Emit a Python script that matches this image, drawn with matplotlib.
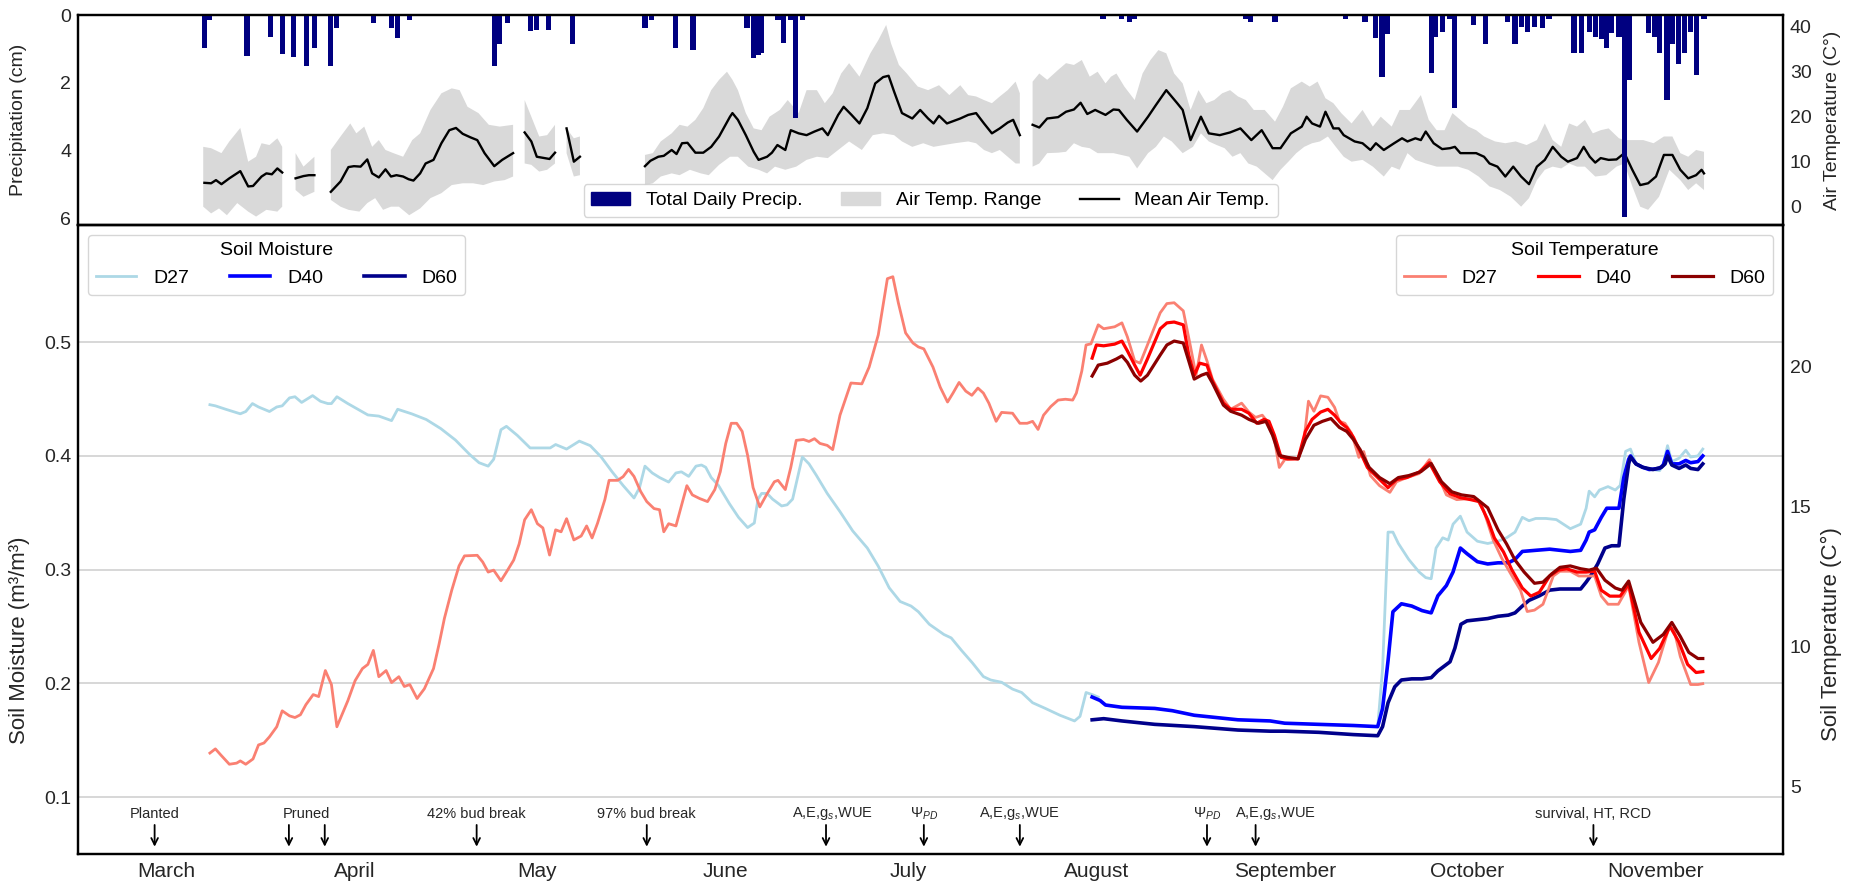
import numpy as np
import matplotlib
matplotlib.use("Agg")
import matplotlib.pyplot as plt
from matplotlib.patches import Patch
from matplotlib.lines import Line2D

nan = np.nan
plt.rcParams['font.family'] = ['Liberation Sans', 'DejaVu Sans']
plt.rcParams['mathtext.fontset'] = 'custom'
plt.rcParams['mathtext.rm'] = 'Liberation Sans'
plt.rcParams['mathtext.it'] = 'Liberation Sans:italic'

# x axis: days since 1 March
month_names = ["March", "April", "May", "June", "July", "August", "September", "October", "November"]
month_days = [0, 31, 61, 92, 122, 153, 184, 214, 245]

# daily precipitation (day, cm)
precip = np.array([
    [6.2, 0.98], [7.0, 0.15], [13.2, 1.2], [17.1, 0.64], [19.0, 1.15], [20.9, 1.23], [23.0, 1.5],
    [24.3, 0.98], [27.0, 1.5], [28.0, 0.39], [34.0, 0.23], [37.0, 0.39], [38.0, 0.69], [39.9, 0.15],
    [53.9, 1.5], [54.8, 0.84], [56.1, 0.23], [59.8, 0.46], [60.9, 0.44], [62.8, 0.44], [66.8, 0.86],
    [78.7, 0.39], [79.8, 0.15], [83.7, 0.98], [86.6, 1.03], [95.5, 0.39], [96.6, 1.28], [97.3, 1.18],
    [97.9, 1.13], [100.6, 0.15], [101.5, 0.82], [102.7, 0.15], [103.5, 3.05], [104.6, 0.15],
    [154.1, 0.12], [157.1, 0.12], [158.4, 0.2], [159.3, 0.12], [177.6, 0.12], [178.3, 0.2], [182.4, 0.2],
    [194.0, 0.12], [197.2, 0.2], [198.9, 0.69], [200.0, 1.82], [200.9, 0.56], [208.1, 1.72], [208.8, 0.64],
    [209.9, 0.49], [211.2, 0.12], [212.0, 2.75], [215.1, 0.3], [217.0, 0.84], [220.7, 0.2], [221.9, 0.84],
    [222.9, 0.34], [224.0, 0.49], [225.1, 0.34], [226.4, 0.39], [227.5, 0.12], [231.6, 1.11], [232.9, 1.13],
    [234.2, 0.49], [235.1, 0.64], [236.2, 0.72], [236.9, 0.98], [237.7, 0.54], [239.0, 0.64], [239.9, 5.95],
    [240.8, 1.92], [243.8, 0.54], [244.9, 0.64], [245.7, 1.13], [246.9, 2.51], [247.8, 0.84], [248.8, 1.43],
    [249.8, 1.13], [250.8, 0.49], [251.8, 1.77], [253.0, 0.12],
])

# mean air temperature (day, C), nan rows = missing data
air_mean = np.array([
    [6.2, 5.3], [7.3, 5.2], [8.1, 5.9], [9.0, 5.0], [10.3, 6.3], [12.1, 7.9], [13.4, 4.5], [14.2, 4.6],
    [15.6, 6.7], [16.4, 7.4], [17.3, 7.2], [18.2, 8.5], [19.0, 7.6], [nan, nan],
    [21.2, 6.3], [22.5, 6.8], [23.4, 7.0], [24.3, 7.0], [nan, nan],
    [27.0, 3.3], [28.6, 5.6], [29.9, 8.8], [30.8, 9.0], [31.9, 8.9], [33.0, 10.5], [33.8, 7.4], [34.9, 6.5],
    [36.0, 8.3], [36.9, 6.7], [37.8, 7.0], [38.9, 6.7], [39.8, 6.1], [40.6, 5.8], [41.7, 7.4], [42.6, 9.6],
    [43.9, 10.4], [45.2, 14.1], [46.5, 17.0], [47.6, 17.5], [48.7, 16.2], [50.0, 15.4], [51.1, 14.8],
    [52.3, 11.9], [53.9, 9.0], [55.2, 10.4], [57.0, 11.9], [nan, nan],
    [58.9, 16.5], [60.0, 14.5], [60.9, 11.1], [62.2, 10.8], [63.0, 10.6], [63.9, 12.0], [nan, nan],
    [65.8, 17.4], [67.0, 10.0], [68.0, 11.1], [nan, nan],
    [78.7, 9.0], [79.6, 10.2], [80.9, 11.1], [81.8, 11.3], [83.1, 12.6], [83.9, 11.7], [84.8, 14.1],
    [85.7, 14.2], [87.0, 12.0], [88.3, 12.0], [89.6, 13.3], [90.9, 15.6], [92.7, 20.0], [93.1, 20.8],
    [94.0, 19.3], [95.3, 15.9], [96.6, 12.2], [97.4, 10.4], [98.8, 11.1], [99.6, 12.0], [100.5, 13.7],
    [101.8, 12.6], [102.7, 17.0], [104.0, 16.3], [105.3, 15.9], [106.6, 16.7], [107.9, 17.4], [108.8, 15.9],
    [110.5, 20.4], [111.4, 22.2], [112.7, 20.4], [114.0, 18.5], [115.3, 21.9], [116.6, 27.4], [117.9, 28.8],
    [118.8, 29.1], [119.7, 25.6], [121.0, 20.8], [122.7, 19.6], [124.0, 21.5], [125.3, 19.6], [126.2, 18.5],
    [127.1, 20.2], [128.4, 18.5], [130.6, 19.6], [131.9, 20.4], [133.2, 20.8], [134.5, 18.5], [135.8, 16.3],
    [137.1, 17.4], [138.4, 18.7], [139.3, 19.3], [140.4, 15.9], [nan, nan],
    [142.5, 18.2], [143.6, 17.6], [144.9, 19.6], [146.7, 19.9], [148.0, 21.1], [149.3, 21.6], [150.4, 23.1],
    [151.5, 20.6], [152.8, 21.5], [154.5, 20.4], [155.8, 21.6], [156.7, 21.5], [158.0, 19.3], [159.7, 16.7],
    [161.5, 20.0], [162.8, 22.6], [164.5, 25.9], [166.3, 23.0], [167.2, 21.5], [168.5, 14.8], [170.2, 20.0],
    [171.5, 16.3], [173.3, 15.9], [175.0, 16.5], [176.7, 17.4], [178.5, 14.8], [180.2, 17.0], [182.0, 13.0],
    [183.3, 13.0], [185.0, 16.3], [186.8, 17.8], [187.6, 20.0], [188.5, 18.5], [189.8, 17.8], [190.7, 21.1],
    [192.0, 17.4], [192.9, 17.4], [193.7, 15.9], [195.5, 14.5], [196.8, 14.1], [198.1, 12.6], [199.0, 14.1],
    [200.3, 12.6], [202.0, 14.1], [203.3, 15.2], [204.2, 14.5], [205.5, 15.2], [206.4, 14.8], [207.2, 16.7],
    [208.5, 14.1], [209.9, 12.8], [211.2, 13.0], [212.0, 13.3], [212.9, 11.9], [214.2, 11.9], [215.5, 11.9],
    [216.8, 11.1], [217.7, 9.6], [219.0, 8.9], [220.3, 6.7], [221.6, 8.9], [222.9, 6.7], [224.2, 5.0],
    [225.5, 8.9], [226.8, 10.4], [228.1, 13.3], [229.5, 11.1], [230.6, 10.0], [232.1, 10.8], [233.2, 13.3],
    [234.2, 11.1], [235.1, 9.8], [236.0, 10.8], [237.3, 10.4], [238.6, 10.5], [239.9, 11.9], [241.2, 8.2],
    [242.5, 4.8], [243.8, 5.2], [245.1, 6.7], [246.4, 11.5], [247.8, 11.5], [249.1, 8.2], [250.4, 6.3],
    [251.7, 7.0], [252.6, 8.2], [253.0, 7.4],
])

# daily max air temperature (day, C)
air_max = np.array([
    [6.0, 13.3], [7.3, 13.0], [9.0, 11.9], [10.3, 14.5], [12.1, 17.5], [13.4, 10.0], [14.7, 11.1],
    [15.6, 14.1], [16.9, 13.7], [18.2, 15.2], [19.0, 13.3], [nan, nan],
    [21.2, 11.9], [22.5, 8.9], [24.3, 11.1], [nan, nan],
    [27.0, 12.6], [28.6, 15.6], [30.2, 18.5], [31.2, 16.3], [32.5, 17.8], [33.8, 13.3], [34.9, 14.8],
    [36.0, 12.6], [37.3, 11.9], [38.9, 11.1], [40.4, 14.8], [41.7, 16.3], [43.4, 21.5], [45.2, 25.2],
    [46.9, 26.3], [48.2, 25.9], [49.5, 22.2], [51.3, 20.8], [53.0, 18.2], [54.8, 17.8], [57.0, 18.2], [nan, nan],
    [58.9, 23.7], [60.0, 20.0], [61.3, 15.6], [62.6, 15.9], [63.9, 18.2], [nan, nan],
    [65.8, 17.4], [67.0, 15.2], [68.0, 15.6], [nan, nan],
    [78.7, 11.5], [80.0, 11.9], [81.3, 14.5], [83.1, 16.3], [84.4, 18.2], [85.7, 17.8], [87.0, 19.3],
    [88.3, 21.9], [89.6, 25.9], [90.9, 28.2], [92.2, 30.0], [93.1, 28.2], [94.0, 25.9], [95.3, 20.8],
    [96.6, 17.4], [97.9, 17.0], [99.2, 20.0], [100.9, 21.5], [102.2, 23.7], [104.0, 20.8], [105.3, 25.9],
    [107.0, 25.9], [108.3, 23.0], [109.6, 25.2], [111.0, 29.6], [112.3, 31.9], [114.0, 28.9], [115.8, 34.1],
    [117.1, 37.0], [118.4, 40.4], [119.2, 36.3], [120.5, 31.5], [121.8, 29.6], [123.6, 26.7], [125.3, 25.9],
    [127.1, 27.0], [128.8, 24.8], [130.6, 27.0], [131.9, 24.8], [133.2, 24.5], [134.5, 23.7], [135.8, 23.0],
    [137.1, 24.5], [138.4, 25.9], [139.7, 27.8], [140.4, 25.2], [nan, nan],
    [142.5, 27.8], [143.6, 29.6], [144.9, 28.2], [146.7, 30.4], [148.0, 31.9], [149.3, 31.5], [150.6, 32.6],
    [151.9, 28.9], [153.2, 30.0], [154.5, 27.4], [155.4, 28.9], [156.3, 29.6], [157.6, 26.7], [159.3, 23.7],
    [160.6, 29.6], [161.9, 32.6], [163.2, 34.8], [164.5, 34.1], [165.8, 29.6], [167.2, 27.4], [168.5, 21.5],
    [169.8, 25.9], [171.1, 23.0], [172.4, 23.7], [173.7, 25.2], [175.0, 25.9], [176.3, 24.5], [177.6, 23.7],
    [178.9, 21.5], [180.7, 21.5], [182.4, 18.9], [183.7, 22.2], [185.0, 26.3], [186.8, 27.8], [188.1, 26.7],
    [189.4, 27.8], [190.7, 24.1], [192.0, 23.0], [193.3, 20.8], [195.0, 18.5], [196.8, 21.5], [198.5, 17.8],
    [199.8, 20.0], [201.6, 17.8], [202.9, 21.5], [204.6, 21.5], [206.4, 24.8], [207.7, 19.3], [209.0, 17.0],
    [210.3, 17.0], [211.6, 20.8], [212.9, 19.3], [214.2, 17.8], [215.5, 17.0], [216.8, 15.6], [218.6, 14.5],
    [220.3, 14.1], [222.0, 14.5], [223.8, 13.7], [225.5, 14.8], [226.8, 18.5], [228.1, 14.8], [229.5, 13.3],
    [230.8, 18.5], [232.1, 17.8], [233.4, 19.3], [234.7, 16.3], [236.0, 17.0], [237.3, 17.4], [239.0, 15.2],
    [239.9, 14.8], [241.6, 14.8], [243.0, 14.8], [244.7, 14.1], [246.4, 15.6], [247.8, 15.6], [249.1, 11.9],
    [250.4, 11.1], [251.7, 12.6], [253.0, 12.2],
])

# daily min air temperature (day, C)
air_min = np.array([
    [6.0, 0.0], [7.3, -1.5], [8.6, -0.4], [9.9, -1.9], [11.6, 0.8], [13.4, -1.1], [14.7, -2.2],
    [16.4, -0.7], [18.2, -1.1], [19.0, 0.0], [nan, nan],
    [21.2, 3.7], [22.5, 2.2], [24.3, 3.3], [nan, nan],
    [27.0, 1.5], [28.6, 0.0], [29.9, -0.7], [31.7, -1.1], [33.0, 0.8], [34.3, 1.9], [35.6, -0.7],
    [36.9, 0.0], [38.2, 0.0], [39.9, -1.9], [41.7, -0.4], [43.4, 1.9], [45.2, 3.0], [46.9, 4.8],
    [48.7, 5.2], [50.4, 5.2], [52.1, 4.8], [53.9, 5.6], [55.6, 5.9], [57.0, 6.7], [nan, nan],
    [58.9, 9.6], [60.0, 9.3], [61.3, 7.8], [62.6, 8.2], [63.9, 9.6], [nan, nan],
    [65.8, 11.9], [67.0, 6.7], [68.0, 7.0], [nan, nan],
    [78.7, 4.8], [80.0, 5.2], [81.3, 6.7], [83.1, 7.4], [84.4, 7.0], [86.1, 8.2], [87.9, 7.4],
    [89.2, 7.0], [90.9, 9.3], [92.7, 11.1], [94.0, 11.1], [95.7, 8.9], [97.4, 8.2], [98.8, 7.4],
    [100.1, 8.9], [101.8, 8.2], [103.6, 8.9], [105.3, 10.4], [107.0, 11.1], [108.8, 10.8], [110.5, 12.6],
    [112.3, 14.5], [114.4, 12.6], [116.2, 15.9], [117.9, 16.3], [119.7, 15.9], [121.0, 14.5], [122.7, 13.3],
    [124.5, 14.1], [126.2, 13.3], [127.9, 13.7], [129.7, 14.1], [131.9, 14.5], [133.2, 14.1], [134.5, 12.6],
    [135.8, 11.9], [137.1, 12.6], [138.4, 11.1], [139.7, 9.6], [140.4, 9.6], [nan, nan],
    [142.5, 8.9], [143.6, 9.6], [144.9, 11.9], [146.7, 12.0], [148.0, 12.2], [149.3, 14.1], [150.6, 13.3],
    [151.9, 13.0], [153.2, 11.9], [154.5, 11.9], [155.8, 11.9], [157.1, 11.5], [158.4, 11.1], [159.7, 8.5],
    [161.5, 11.9], [162.8, 13.3], [164.1, 15.6], [165.4, 14.5], [167.2, 11.9], [168.9, 13.3], [170.2, 16.3],
    [171.5, 14.5], [172.8, 13.7], [174.1, 13.0], [175.4, 11.1], [176.7, 11.9], [178.0, 9.6], [179.4, 8.9],
    [180.7, 7.4], [182.0, 5.9], [183.3, 8.2], [184.6, 10.0], [185.9, 11.9], [187.2, 13.3], [188.5, 14.1],
    [189.8, 14.5], [191.1, 15.6], [192.4, 13.3], [193.7, 11.1], [195.0, 10.0], [196.8, 10.4], [198.5, 8.9],
    [200.3, 6.7], [201.6, 8.9], [202.9, 8.2], [204.2, 11.9], [205.5, 10.4], [207.2, 9.6], [209.0, 8.9],
    [210.7, 8.9], [212.5, 8.9], [214.2, 8.2], [215.9, 6.7], [217.7, 4.5], [219.4, 3.7], [221.2, 2.2],
    [222.9, 0.0], [224.2, 1.9], [225.5, 5.9], [226.8, 8.2], [228.1, 8.9], [229.5, 8.5], [230.8, 9.6],
    [232.1, 8.9], [233.4, 8.9], [235.1, 6.7], [236.9, 7.0], [238.6, 8.9], [239.9, 9.6], [241.2, 4.5],
    [242.5, 0.0], [243.8, -0.7], [245.6, 2.2], [247.3, 8.2], [249.1, 5.9], [250.4, 3.7], [251.7, 5.2],
    [253.0, 3.7],
])

# soil moisture (day, m3/m3)
sm_d27 = np.array([
    [7.1, 0.445], [8.0, 0.444], [9.7, 0.441], [12.1, 0.437], [13.0, 0.439], [14.1, 0.446], [15.1, 0.443],
    [16.9, 0.439], [18.1, 0.443], [19.0, 0.444], [20.2, 0.451], [21.1, 0.452], [22.2, 0.447], [24.0, 0.453],
    [25.3, 0.448], [26.5, 0.446], [27.1, 0.446], [28.0, 0.452], [29.8, 0.446], [33.1, 0.436], [34.9, 0.435],
    [37.0, 0.431], [38.0, 0.441], [40.3, 0.437], [42.7, 0.432], [45.1, 0.424], [47.5, 0.414], [49.9, 0.401],
    [51.4, 0.394], [52.9, 0.391], [53.8, 0.397], [55.0, 0.423], [55.9, 0.426], [57.7, 0.418], [59.8, 0.407],
    [62.2, 0.407], [63.1, 0.407], [64.0, 0.410], [65.8, 0.406], [67.9, 0.413], [69.7, 0.409], [71.5, 0.399],
    [73.3, 0.386], [75.1, 0.374], [76.9, 0.363], [77.8, 0.372], [78.7, 0.391], [79.9, 0.385], [81.1, 0.381],
    [82.6, 0.377], [83.8, 0.385], [84.7, 0.386], [85.9, 0.382], [87.1, 0.391], [88.0, 0.392], [88.7, 0.390],
    [89.6, 0.381], [90.8, 0.374], [92.6, 0.358], [94.1, 0.346], [95.6, 0.337], [96.7, 0.341], [97.3, 0.362],
    [97.9, 0.367], [98.8, 0.367], [99.7, 0.362], [101.2, 0.356], [102.1, 0.357], [103.0, 0.362], [103.6, 0.376],
    [104.6, 0.399], [105.7, 0.393], [106.9, 0.383], [108.7, 0.367], [110.8, 0.351], [112.9, 0.334],
    [115.3, 0.319], [117.1, 0.303], [118.9, 0.284], [120.7, 0.272], [122.5, 0.268], [123.7, 0.263],
    [125.5, 0.252], [127.9, 0.243], [129.1, 0.240], [130.8, 0.229], [132.6, 0.218], [134.4, 0.206],
    [135.6, 0.203], [137.4, 0.201], [139.2, 0.195], [140.7, 0.192], [142.5, 0.183], [144.6, 0.178],
    [147.0, 0.172], [149.4, 0.167], [150.3, 0.171], [151.3, 0.192], [152.4, 0.190], [153.3, 0.188], [nan, nan],
    [199.3, 0.162], [200.1, 0.213], [201.0, 0.333], [201.8, 0.333], [202.7, 0.323], [204.4, 0.309],
    [206.1, 0.298], [207.2, 0.293], [208.1, 0.292], [208.9, 0.319], [210.0, 0.328], [210.9, 0.326],
    [211.7, 0.340], [212.9, 0.347], [214.0, 0.333], [215.7, 0.325], [217.4, 0.323], [219.1, 0.325],
    [220.5, 0.328], [221.9, 0.333], [223.1, 0.346], [224.2, 0.343], [225.3, 0.345], [227.0, 0.345],
    [228.7, 0.344], [231.0, 0.336], [232.7, 0.340], [233.6, 0.354], [234.1, 0.369], [235.0, 0.364],
    [235.8, 0.370], [237.2, 0.373], [238.4, 0.370], [239.2, 0.374], [240.1, 0.404], [240.9, 0.406],
    [241.8, 0.393], [242.9, 0.390], [244.6, 0.388], [245.7, 0.387], [246.3, 0.393], [247.0, 0.409],
    [247.7, 0.395], [248.9, 0.398], [250.0, 0.405], [250.8, 0.399], [252.0, 0.400], [252.8, 0.406],
])

sm_d40 = np.array([
    [152.3, 0.188], [153.6, 0.185], [154.5, 0.181], [157.2, 0.179], [162.6, 0.178], [165.5, 0.176],
    [169.1, 0.172], [172.7, 0.170], [176.3, 0.168], [181.6, 0.167], [184.0, 0.165], [189.6, 0.164],
    [195.3, 0.163], [199.3, 0.162], [200.1, 0.178], [201.0, 0.220], [201.8, 0.263], [203.2, 0.270],
    [204.9, 0.268], [206.6, 0.264], [208.1, 0.262], [209.2, 0.277], [210.6, 0.286], [211.7, 0.298],
    [212.9, 0.319], [214.0, 0.314], [215.7, 0.307], [217.4, 0.305], [219.1, 0.306], [220.8, 0.306],
    [221.9, 0.309], [223.1, 0.316], [225.3, 0.317], [227.6, 0.318], [229.3, 0.317], [231.0, 0.316],
    [232.7, 0.317], [233.6, 0.326], [234.1, 0.333], [235.0, 0.335], [236.1, 0.346], [237.0, 0.354],
    [237.8, 0.354], [239.0, 0.354], [239.8, 0.381], [240.6, 0.397], [240.9, 0.400], [241.8, 0.393],
    [242.9, 0.390], [244.0, 0.388], [245.7, 0.389], [246.3, 0.392], [247.0, 0.404], [247.7, 0.393],
    [248.9, 0.393], [250.0, 0.396], [250.8, 0.394], [252.0, 0.395], [252.8, 0.400],
])

sm_d60 = np.array([
    [152.3, 0.168], [154.2, 0.169], [157.2, 0.167], [162.6, 0.164], [169.1, 0.162], [176.3, 0.159],
    [181.6, 0.158], [184.0, 0.158], [189.6, 0.157], [195.3, 0.155], [199.3, 0.154], [200.1, 0.162],
    [201.0, 0.183], [202.1, 0.197], [203.2, 0.203], [204.9, 0.204], [206.6, 0.204], [208.1, 0.205],
    [209.2, 0.211], [211.2, 0.219], [212.0, 0.231], [213.0, 0.252], [214.0, 0.255], [215.7, 0.256],
    [217.4, 0.257], [219.1, 0.259], [220.8, 0.260], [221.9, 0.262], [223.1, 0.268], [224.2, 0.273],
    [225.9, 0.277], [227.6, 0.282], [229.3, 0.283], [231.0, 0.283], [232.7, 0.283], [233.6, 0.289],
    [234.4, 0.295], [235.5, 0.305], [236.7, 0.319], [237.8, 0.321], [239.0, 0.321], [239.8, 0.362],
    [240.6, 0.393], [240.9, 0.399], [241.8, 0.393], [242.9, 0.390], [244.6, 0.388], [246.0, 0.390],
    [246.6, 0.393], [247.0, 0.400], [247.7, 0.392], [248.9, 0.389], [250.0, 0.392], [250.8, 0.389],
    [252.0, 0.388], [252.8, 0.393],
])

# soil temperature (day, C)
st_d27 = np.array([
    [7.1, 6.19], [8.0, 6.34], [8.9, 6.12], [10.3, 5.79], [11.5, 5.83], [12.1, 5.91], [13.0, 5.79],
    [14.2, 5.98], [15.1, 6.48], [16.0, 6.55], [16.9, 6.77], [18.1, 7.13], [19.0, 7.70], [20.2, 7.52],
    [21.1, 7.46], [22.0, 7.56], [22.9, 7.92], [24.1, 8.28], [25.0, 8.21], [26.1, 9.14], [27.1, 8.64],
    [28.0, 7.13], [29.8, 8.06], [31.0, 8.78], [32.2, 9.21], [33.1, 9.36], [34.0, 9.86], [34.9, 8.92],
    [36.1, 9.14], [37.0, 8.71], [38.2, 8.92], [39.1, 8.57], [40.0, 8.64], [41.2, 8.14], [42.4, 8.49],
    [43.9, 9.21], [44.8, 10.07], [45.7, 11.01], [46.9, 12.01], [48.1, 12.88], [49.0, 13.24], [51.1, 13.26],
    [52.0, 13.02], [52.9, 12.66], [53.8, 12.73], [55.0, 12.35], [55.9, 12.66], [57.1, 13.09], [58.0, 13.67],
    [58.9, 14.53], [60.0, 14.89], [61.0, 14.39], [61.9, 14.24], [63.0, 13.27], [64.0, 14.17], [64.9, 14.10],
    [65.8, 14.57], [67.0, 13.81], [68.2, 13.95], [69.1, 14.31], [70.0, 13.88], [70.9, 14.41], [72.1, 15.25],
    [72.8, 15.94], [74.2, 15.94], [75.1, 16.07], [76.0, 16.33], [76.9, 16.08], [78.0, 15.54], [79.0, 15.18],
    [80.2, 14.93], [81.1, 14.89], [81.8, 14.10], [82.6, 14.39], [83.8, 14.31], [85.6, 15.75], [86.5, 15.42],
    [87.7, 15.29], [89.0, 15.18], [90.2, 15.61], [91.1, 16.25], [92.0, 17.26], [92.9, 17.98], [93.8, 17.98],
    [94.7, 17.69], [95.6, 16.83], [96.5, 15.68], [97.6, 14.99], [98.8, 15.46], [100.0, 15.89], [100.6, 15.94],
    [101.8, 15.61], [102.7, 16.40], [103.6, 17.37], [104.8, 17.40], [105.7, 17.33], [106.6, 17.43],
    [107.5, 17.26], [108.7, 17.19], [109.6, 17.04], [110.8, 18.27], [112.6, 19.42], [114.4, 19.39],
    [115.6, 19.99], [117.1, 21.14], [118.6, 23.15], [119.5, 23.22], [120.4, 22.29], [121.6, 21.21],
    [122.8, 20.85], [123.7, 20.71], [124.6, 20.64], [126.1, 19.99], [127.3, 19.27], [128.5, 18.74],
    [129.4, 19.06], [130.4, 19.44], [131.5, 19.13], [132.5, 18.98], [133.5, 19.24], [134.4, 19.06],
    [135.3, 18.70], [136.5, 18.05], [137.4, 18.37], [139.2, 18.34], [140.4, 17.98], [141.6, 17.98],
    [142.5, 18.05], [143.4, 17.76], [144.3, 18.27], [145.5, 18.58], [146.7, 18.81], [147.9, 18.84],
    [149.1, 18.81], [149.7, 19.06], [150.6, 19.85], [151.3, 20.78], [152.1, 20.82], [153.3, 21.50],
    [154.2, 21.36], [156.0, 21.43], [157.2, 21.57], [158.1, 21.07], [159.3, 20.21], [160.2, 20.13],
    [161.4, 20.78], [163.5, 21.93], [164.6, 22.26], [165.8, 22.29], [167.3, 22.00], [168.5, 20.71],
    [169.4, 19.70], [170.3, 20.78], [171.2, 20.21], [172.1, 19.56], [173.9, 18.84], [175.1, 18.48],
    [176.9, 18.70], [178.1, 18.38], [179.2, 18.19], [180.3, 18.27], [181.1, 18.05], [182.3, 17.40],
    [183.1, 16.40], [184.0, 16.68], [186.2, 16.71], [187.1, 17.26], [187.9, 18.77], [188.8, 18.41],
    [189.9, 18.96], [191.1, 18.91], [192.2, 18.55], [193.0, 18.05], [193.9, 17.98], [195.0, 17.62],
    [196.2, 16.76], [197.0, 16.97], [198.1, 16.11], [199.6, 15.75], [201.3, 15.51], [202.4, 15.89],
    [204.1, 16.04], [206.1, 16.18], [207.8, 16.68], [209.2, 16.11], [210.6, 15.42], [212.3, 15.25],
    [214.0, 15.28], [215.7, 15.25], [216.8, 14.82], [218.3, 13.81], [219.7, 13.16], [221.4, 12.52],
    [222.8, 12.01], [223.9, 11.25], [225.1, 11.30], [226.5, 11.51], [228.2, 12.52], [229.3, 12.69],
    [231.0, 12.69], [232.4, 12.52], [233.6, 12.52], [235.0, 12.52], [236.1, 11.80], [237.2, 11.51],
    [238.9, 11.51], [240.6, 12.16], [242.3, 10.15], [243.9, 8.71], [245.5, 9.43], [247.2, 10.65],
    [248.0, 10.65], [249.1, 9.64], [250.8, 8.64], [252.0, 8.64], [252.8, 8.67],
])

st_d40 = np.array([
    [152.3, 20.31], [153.0, 20.78], [154.2, 20.75], [156.0, 20.81], [157.2, 20.92], [158.1, 20.57],
    [159.3, 20.06], [160.2, 19.70], [161.4, 20.28], [163.5, 21.36], [164.6, 21.57], [165.8, 21.60],
    [167.3, 21.50], [168.2, 20.42], [169.1, 19.70], [170.0, 20.13], [171.2, 20.06], [172.1, 19.49],
    [173.9, 18.70], [175.1, 18.48], [176.9, 18.48], [178.1, 18.34], [179.4, 17.98], [180.6, 18.12],
    [181.4, 18.05], [182.3, 17.55], [183.4, 16.76], [184.5, 16.71], [186.2, 16.71], [187.4, 17.69],
    [188.5, 18.12], [189.9, 18.38], [191.1, 18.48], [192.2, 18.27], [193.3, 17.98], [194.2, 17.83],
    [195.3, 17.48], [196.4, 16.97], [197.6, 16.40], [199.3, 16.04], [201.0, 15.68], [202.4, 15.97],
    [204.1, 16.04], [206.1, 16.23], [207.8, 16.57], [209.5, 15.89], [211.2, 15.46], [212.9, 15.32],
    [214.6, 15.25], [216.0, 15.18], [217.4, 14.53], [218.5, 13.88], [220.0, 13.38], [221.4, 12.73],
    [223.1, 12.09], [224.5, 11.80], [225.9, 11.94], [227.6, 12.52], [229.0, 12.73], [230.4, 12.78],
    [232.1, 12.66], [233.6, 12.66], [235.0, 12.69], [236.1, 12.01], [237.5, 11.80], [239.2, 11.80],
    [240.6, 12.23], [242.3, 10.51], [244.3, 9.57], [245.7, 9.93], [247.4, 10.72], [248.9, 10.15],
    [250.3, 9.36], [251.7, 9.07], [252.8, 9.10],
])

st_d60 = np.array([
    [152.3, 19.67], [153.3, 20.06], [154.8, 20.13], [156.3, 20.28], [157.2, 20.39], [158.1, 20.16],
    [159.3, 19.70], [160.3, 19.49], [161.4, 19.70], [163.5, 20.42], [164.6, 20.78], [165.8, 20.92],
    [167.3, 20.85], [168.2, 20.21], [169.1, 19.56], [170.3, 19.70], [171.2, 19.77], [172.1, 19.42],
    [173.9, 18.63], [175.1, 18.41], [176.9, 18.27], [178.1, 18.12], [179.7, 17.98], [180.9, 18.05],
    [182.0, 17.55], [183.1, 16.83], [184.5, 16.76], [186.2, 16.71], [187.4, 17.40], [188.8, 17.91],
    [190.2, 18.05], [191.6, 18.15], [193.0, 17.83], [194.2, 17.69], [195.3, 17.40], [196.4, 17.04],
    [197.9, 16.40], [199.6, 16.04], [201.3, 15.82], [202.7, 16.04], [204.4, 16.11], [206.4, 16.25],
    [208.1, 16.54], [209.8, 15.89], [211.5, 15.53], [213.1, 15.42], [215.1, 15.36], [217.4, 14.96],
    [219.1, 14.17], [220.5, 13.67], [221.9, 13.09], [223.4, 12.66], [225.1, 12.26], [226.5, 12.30],
    [227.9, 12.59], [229.3, 12.83], [231.0, 12.88], [232.7, 12.78], [234.1, 12.73], [235.3, 12.80],
    [236.7, 12.37], [238.4, 12.09], [239.5, 12.01], [240.6, 12.34], [242.6, 10.86], [244.6, 10.15],
    [246.3, 10.43], [247.7, 10.86], [249.1, 10.36], [250.5, 9.79], [252.0, 9.57], [252.8, 9.57],
])

# field events: label, label position (day), arrow days
event_labels = ["Planted", "Pruned", "42% bud break", "97% bud break", "A,E,g$_s$,WUE", "Ψ$_{PD}$",
                "A,E,g$_s$,WUE", "Ψ$_{PD}$", "A,E,g$_s$,WUE", "survival, HT, RCD"]
event_text_days = [-2, 23, 51, 79, 109.5, 124.6, 140.4, 171.2, 182.4, 234.8]
event_arrow_days = [[-2], [20.1, 26.0], [51], [79], [108.5], [124.6], [140.4], [171.2], [179.2], [234.8]]


def split_nan(arr):
    # break an array at its nan rows
    pieces = np.split(arr, np.where(np.isnan(arr[:, 0]))[0])
    return [p[~np.isnan(p[:, 0])] for p in pieces if np.any(~np.isnan(p[:, 0]))]


TXT = "#262626"
fig = plt.figure(figsize=(18.54, 8.84), dpi=100)
ax_p = fig.add_axes([0.0421, 0.7455, 0.9196, 0.2375])
ax_b = fig.add_axes([0.0421, 0.0339, 0.9196, 0.7116], sharex=ax_p)

# ---- top panel: precipitation + air temperature
ax_t = ax_p.twinx()
ax_p.set_zorder(ax_t.get_zorder() + 1)
ax_p.patch.set_visible(False)

for hi, lo in zip(split_nan(air_max), split_nan(air_min)):
    ax_t.fill(np.concatenate([hi[:, 0], lo[::-1, 0]]), np.concatenate([hi[:, 1], lo[::-1, 1]]),
              color="#d9d9d9", lw=0)
ax_t.plot(air_mean[:, 0], air_mean[:, 1], color="black", lw=1.7)
ax_t.set_ylim(-4.07, 42.6)
ax_t.set_yticks([0, 10, 20, 30, 40])
ax_t.set_ylabel("Air Temperature (C°)", fontsize=14, color=TXT)
ax_t.yaxis.set_label_coords(1.024, 0.5)

ax_p.bar(precip[:, 0], precip[:, 1], width=0.85, color="navy")
ax_p.set_ylim(6.19, 0)
ax_p.set_yticks([0, 2, 4, 6])
ax_p.set_ylabel("Precipitation (cm)", fontsize=14, color=TXT)
ax_p.yaxis.set_label_coords(-0.030, 0.5)
ax_p.tick_params(axis="x", labelbottom=False)

top_handles = [Patch(color="navy", label="Total Daily Precip."),
               Patch(color="#d9d9d9", label="Air Temp. Range"),
               Line2D([], [], color="black", lw=1.7, label="Mean Air Temp.")]
ax_p.legend(handles=top_handles, loc="lower center", ncol=3, fontsize=14, columnspacing=2.0,
            handlelength=2.0, frameon=True, edgecolor="#cccccc", borderaxespad=0.4)

# ---- bottom panel: soil moisture + soil temperature
ax_b.yaxis.grid(True, color="#d4d4d4", lw=1.3)
ax_b.set_axisbelow(True)
ax_b.plot(sm_d27[:, 0], sm_d27[:, 1], color="lightblue", lw=2.0, label="D27")
ax_b.plot(sm_d40[:, 0], sm_d40[:, 1], color="blue", lw=2.6, label="D40")
ax_b.plot(sm_d60[:, 0], sm_d60[:, 1], color="darkblue", lw=2.6, label="D60")
ax_b.set_ylim(0.05, 0.603)
ax_b.set_yticks([0.1, 0.2, 0.3, 0.4, 0.5])
ax_b.set_ylabel("Soil Moisture (m³/m³)", fontsize=16, color=TXT)
ax_b.yaxis.set_label_coords(-0.028, 0.34)

ax_s = ax_b.twinx()
ax_s.plot(st_d27[:, 0], st_d27[:, 1], color="salmon", lw=2.0, label="D27")
ax_s.plot(st_d40[:, 0], st_d40[:, 1], color="red", lw=2.3, label="D40")
ax_s.plot(st_d60[:, 0], st_d60[:, 1], color="darkred", lw=2.3, label="D60")
ax_s.set_ylim(2.58, 25.07)
ax_s.set_yticks([5, 10, 15, 20])
ax_s.set_ylabel("Soil Temperature (C°)", fontsize=16, color=TXT)
ax_s.yaxis.set_label_coords(1.022, 0.35)

leg_kw = dict(ncol=3, fontsize=14, title_fontsize=14, handlelength=2.1, handletextpad=0.85,
              columnspacing=2.1, edgecolor="#cccccc")
ax_b.legend(loc="upper left", title="Soil Moisture", **leg_kw)
ax_s.legend(loc="upper right", title="Soil Temperature", **leg_kw)

for label, tday, adays in zip(event_labels, event_text_days, event_arrow_days):
    ax_b.text(tday, 0.0855, label, ha="center", va="center", fontsize=10.5, color=TXT)
    for a in adays:
        ax_b.annotate("", xy=(a, 0.054), xytext=(a, 0.078),
                      arrowprops=dict(arrowstyle="->", color="black", lw=1.3, mutation_scale=12))

ax_b.set_xlim(-14.6, 266)
ax_b.set_xticks(month_days)
ax_b.set_xticklabels(month_names)

for ax in (ax_p, ax_t, ax_b, ax_s):
    ax.tick_params(length=0, labelsize=14, labelcolor=TXT, pad=5)
    for sp in ax.spines.values():
        sp.set_color("black")
        sp.set_linewidth(1.6)
ax_b.tick_params(axis="x", pad=6, labelsize=15)

fig.savefig("out.png", dpi=100)
